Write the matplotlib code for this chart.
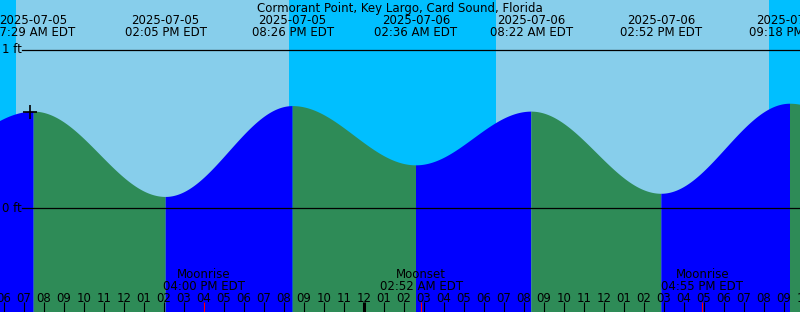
import numpy as np
import pandas as pd
import matplotlib
matplotlib.use("Agg")
import matplotlib.pyplot as plt
import matplotlib.transforms as mtransforms

titre = "Cormorant Point, Key Largo, Card Sound, Florida"
origine = pd.Timestamp("2025-07-05 00:00")

# Marees (premiere et derniere hors cadre, estimees)
maree_temps = ["2025-07-05 00:55", "2025-07-05 07:29", "2025-07-05 14:05",
               "2025-07-05 20:26", "2025-07-06 02:36", "2025-07-06 08:22",
               "2025-07-06 14:52", "2025-07-06 21:18", "2025-07-07 03:30"]
maree_hauteur = [0.22, 0.61, 0.07, 0.645, 0.27, 0.61, 0.09, 0.66, 0.28]

# Lever / coucher du soleil
soleil_lever = ["2025-07-05 06:36", "2025-07-06 06:36"]
soleil_coucher = ["2025-07-05 20:15", "2025-07-06 20:15"]

# Evenements lune
lune_nom = ["Moonrise", "Moonset", "Moonrise"]
lune_temps = ["2025-07-05 16:00", "2025-07-06 02:52", "2025-07-06 16:55"]

# Marqueur "maintenant"
maintenant = "2025-07-05 07:18"
maintenant_h = 0.608

def heures(s):
    return (pd.Timestamp(s) - origine) / pd.Timedelta(hours=1)

W, H = 800, 312
fig = plt.figure(figsize=(W / 100, H / 100), dpi=100)
ax = fig.add_axes([0, 0, 1, 1])
x0, x1 = 5.8, 45.8
ax.set_xlim(x0, x1)
ax.set_ylim(-104 / 158, 208 / 158)
ax.axis("off")

# Fond jour / nuit
ax.axvspan(x0, x1, color="#00BFFF", lw=0)
for lv, co in zip(soleil_lever, soleil_coucher):
    ax.axvspan(heures(lv), heures(co), color="#87CEEB", lw=0)

# Courbe de maree, segment par segment
th = [heures(t) for t in maree_temps]
for i in range(len(th) - 1):
    t = np.linspace(th[i], th[i + 1], 200)
    f = (t - th[i]) / (th[i + 1] - th[i])
    h0, h1 = maree_hauteur[i], maree_hauteur[i + 1]
    h = h0 + (h1 - h0) * (1 - np.cos(np.pi * f)) / 2
    couleur = "#0000FF" if h1 > h0 else "#2E8B57"
    ax.fill_between(t, -2, h, color=couleur, lw=0)

fs = 8.5
trans = mtransforms.blended_transform_factory(ax.transData, ax.transAxes)
def py(p):
    return 1 - p / H

# Lignes 0 ft et 1 ft
for niveau, lab in [(1, "1 ft"), (0, "0 ft")]:
    ax.axhline(niveau, xmin=22 / W, xmax=1, color="black", lw=0.9)
    ax.text(2 / W, ax.transLimits.transform((x0, niveau))[1], lab, transform=ax.transAxes,
            ha="left", va="center", fontsize=fs)

# Titre et etiquettes des marees
ax.text(0.5, py(12), titre, transform=ax.transAxes, ha="center", va="baseline", fontsize=fs)
for t in maree_temps:
    ts = pd.Timestamp(t)
    xh = heures(t)
    if x0 - 2 < xh < x1 + 2:
        ax.text(xh, py(24), ts.strftime("%Y-%m-%d"), transform=trans,
                ha="center", va="baseline", fontsize=fs)
        ax.text(xh, py(36), ts.strftime("%I:%M %p EDT"), transform=trans,
                ha="center", va="baseline", fontsize=fs)

ax.plot([heures(maintenant)], [maintenant_h], marker="+", color="black",
        markersize=10, mew=1.2)

# Graduations horaires
for hr in range(5, 47):
    lab = (origine + pd.Timedelta(hours=hr)).strftime("%I")
    ax.text(hr, py(302), lab, transform=trans, ha="center", va="baseline", fontsize=fs)
    lw = 2.2 if hr % 24 == 0 else 0.8
    ax.plot([hr, hr], [py(302), py(312)], transform=trans, color="black", lw=lw,
            solid_capstyle="butt")

# Lune
for nom, t in zip(lune_nom, lune_temps):
    xh = heures(t)
    ax.text(xh, py(278), nom, transform=trans, ha="center", va="baseline", fontsize=fs)
    ax.text(xh, py(290), pd.Timestamp(t).strftime("%I:%M %p EDT"), transform=trans,
            ha="center", va="baseline", fontsize=fs)
    ax.plot([xh, xh], [py(302), py(312)], transform=trans, color="red", lw=0.8,
            solid_capstyle="butt")

fig.savefig("out.png", dpi=100)
